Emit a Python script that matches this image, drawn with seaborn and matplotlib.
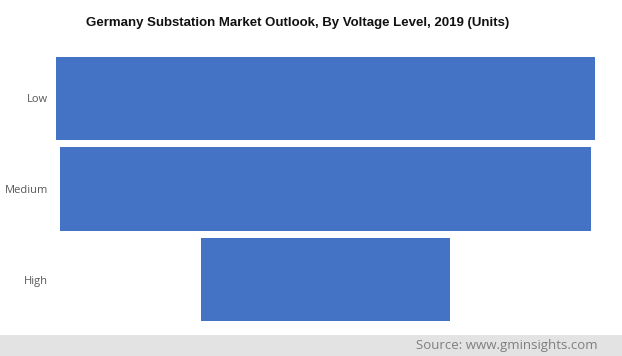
import matplotlib
matplotlib.use("Agg")
import matplotlib.pyplot as plt
import numpy as np
import pandas as pd
import seaborn as sns
from matplotlib.patches import Rectangle

# funnel widths (relative units)
levels = ["Low", "Medium", "High"]
units = [539, 531, 249]

title = "Germany Substation Market Outlook, By Voltage Level, 2019 (Units)"
source = "Source: www.gminsights.com"
bar_color = "#4472C4"

sns.set_theme(style="white")
plt.rcParams["font.family"] = ["Open Sans", "DejaVu Sans"]

df = pd.DataFrame({"level": levels, "half": np.array(units) / 2})

fig = plt.figure(figsize=(6.22, 3.56), dpi=100)
ax = fig.add_axes([56 / 622, 1 - 325 / 356, 539 / 622, 272 / 356])

# funnel: draw each bar as two halves mirrored around zero
sns.barplot(data=df, x="half", y="level", order=levels, color=bar_color,
            width=0.92, linewidth=0, saturation=1, ax=ax)
df_left = df.assign(half=-df["half"])
sns.barplot(data=df_left, x="half", y="level", order=levels, color=bar_color,
            width=0.92, linewidth=0, saturation=1, ax=ax)

ax.set_xlim(-max(units) / 2, max(units) / 2)
ax.set_ylim(2.5, -0.5)
ax.set_xlabel("")
ax.set_ylabel("")
ax.set_xticks([])
ax.tick_params(axis="y", length=0, pad=5.5, labelsize=8, labelcolor="#595959")
sns.despine(ax=ax, left=True, bottom=True)

fig.text(298 / 622, 1 - 23 / 356, title, ha="center", va="center",
         fontsize=9.5, fontweight="bold", color="#111111",
         family=["Liberation Sans Narrow", "Liberation Sans", "DejaVu Sans"])

# source band at the bottom
fig.patches.append(Rectangle((0, 0), 1, 21 / 356, transform=fig.transFigure,
                             facecolor="#e3e3e3", edgecolor="none", zorder=0))
fig.text(598 / 622, 10.5 / 356, source, ha="right", va="center",
         fontsize=9.5, color="#7f7f7f")

fig.savefig("out.png", dpi=100)
